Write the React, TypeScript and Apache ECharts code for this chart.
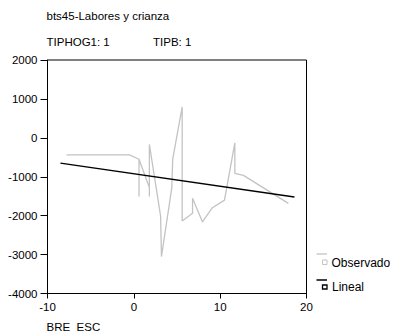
import React, { useEffect, useRef } from "react";
import * as echarts from "echarts";

const titleText = "bts45-Labores y crianza";
const subLeft = "TIPHOG1: 1";
const subRight = "TIPB: 1";
const xAxisName = "BRE_ESC";
const seriesNames = ["Observado", "Lineal"];

const obsX = [-7.8, -0.5, 0.6, 0.6, 0.6, 1.8, 1.8, 1.8, 3.1, 3.2, 4.4, 4.5, 5.6, 5.6, 6.8, 6.8, 7.95, 9.1, 10.5, 11.7, 11.7, 12.7, 17.9];
const obsY = [-440, -440, -550, -1505, -550, -1280, -1505, -170, -2010, -3050, -1280, -555, 795, -2135, -1940, -1555, -2160, -1795, -1600, -130, -915, -965, -1685];

const linX = [-8.5, 18.6];
const linY = [-650, -1520];

const FONT = "'Liberation Sans', Arial, sans-serif";

export default function App() {
  const ref = useRef<HTMLDivElement>(null);
  useEffect(() => {
    const chart = echarts.init(ref.current!, null, { renderer: "svg" });
    const gray = "#c3c3c3";
    const fmt = (v: number) => String(v);
    const txt = (x: number, y: number, text: string, size = 11.5) => ({
      type: "text",
      x,
      y,
      style: { text, fill: "#000", font: `${size}px ${FONT}`, verticalAlign: "middle", align: "left" },
    });
    chart.setOption({
      animation: false,
      backgroundColor: "#fff",
      grid: {
        left: 47.5,
        right: 88.5,
        top: 60,
        bottom: 38.5,
        show: true,
        borderColor: "#000",
        borderWidth: 1,
        backgroundColor: "transparent",
      },
      xAxis: {
        type: "value",
        min: -10,
        max: 20,
        interval: 10,
        splitLine: { show: false },
        axisLine: { show: true, onZero: false, lineStyle: { color: "#000", width: 1 } },
        axisTick: { show: true, length: 5, lineStyle: { color: "#000" } },
        axisLabel: { color: "#000", fontSize: 11.5, fontFamily: FONT, margin: 7, formatter: fmt },
      },
      yAxis: {
        type: "value",
        min: -4000,
        max: 2000,
        interval: 1000,
        splitLine: { show: false },
        axisLine: { show: true, onZero: false, lineStyle: { color: "#000", width: 1 } },
        axisTick: { show: true, length: 7, lineStyle: { color: "#000" } },
        axisLabel: { color: "#000", fontSize: 11.5, fontFamily: FONT, margin: 10, formatter: fmt },
      },
      series: [
        {
          name: seriesNames[0],
          type: "line",
          data: obsX.map((x, i) => [x, obsY[i]]),
          showSymbol: false,
          symbol: "none",
          lineStyle: { color: gray, width: 1.3 },
          z: 2,
        },
        {
          name: seriesNames[1],
          type: "line",
          data: linX.map((x, i) => [x, linY[i]]),
          showSymbol: false,
          symbol: "none",
          lineStyle: { color: "#000", width: 1.5 },
          z: 3,
        },
      ],
      graphic: [
        txt(46.5, 15.7, titleText),
        txt(46.5, 41.7, subLeft),
        txt(153, 41.7, subRight),
        txt(46.5, 327, xAxisName),
        { type: "line", shape: { x1: 316.5, y1: 254, x2: 327, y2: 254 }, style: { stroke: gray, lineWidth: 1.3 } },
        { type: "rect", shape: { x: 322.5, y: 260, width: 4.5, height: 4.5 }, style: { fill: "#fff", stroke: gray, lineWidth: 1 } },
        txt(331.5, 263, seriesNames[0], 12),
        { type: "line", shape: { x1: 316.5, y1: 280, x2: 327, y2: 280 }, style: { stroke: "#000", lineWidth: 1.5 } },
        { type: "rect", shape: { x: 322.5, y: 285, width: 4.5, height: 4 }, style: { fill: "#fff", stroke: "#000", lineWidth: 1.3 } },
        txt(332, 287, seriesNames[1], 12),
      ],
    });
    return () => chart.dispose();
  }, []);
  return (
    <div
      ref={ref}
      style={{ position: "fixed", left: 0, top: 0, width: 395, height: 332 }}
    />
  );
}
